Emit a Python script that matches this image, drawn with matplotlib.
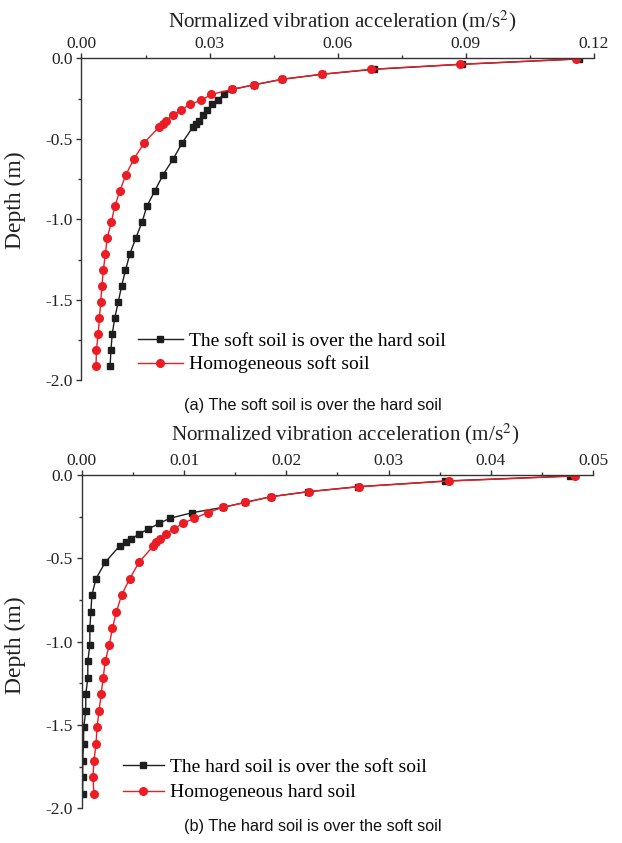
import matplotlib
matplotlib.use('Agg')
import matplotlib.pyplot as plt
from matplotlib.ticker import MultipleLocator, FormatStrFormatter

plt.rcParams['font.family'] = 'Liberation Serif'
plt.rcParams['mathtext.fontset'] = 'stix'
plt.rcParams['axes.unicode_minus'] = False

# (a) soft soil over hard soil
depth_a = [-0.004, -0.037, -0.068, -0.099, -0.13, -0.164, -0.193, -0.224, -0.259, -0.286,
           -0.321, -0.354, -0.388, -0.405, -0.426, -0.524, -0.624, -0.723, -0.822, -0.919,
           -1.017, -1.118, -1.217, -1.317, -1.414, -1.514, -1.613, -1.712, -1.812, -1.911]
soft_over_hard = [0.1164, 0.0891, 0.0686, 0.0563, 0.047, 0.0405, 0.0353, 0.0333, 0.0319, 0.0306,
                  0.0295, 0.0284, 0.0274, 0.0267, 0.0261, 0.0236, 0.0215, 0.0191, 0.0172, 0.0153,
                  0.0142, 0.0127, 0.0113, 0.0103, 0.0094, 0.0086, 0.0078, 0.0072, 0.0069, 0.0067]
homog_soft = [0.1158, 0.0886, 0.0678, 0.0563, 0.047, 0.0405, 0.0353, 0.0304, 0.0281, 0.0255,
              0.0232, 0.0214, 0.0197, 0.0191, 0.0182, 0.0147, 0.0123, 0.0104, 0.009, 0.0078,
              0.007, 0.006, 0.0056, 0.0051, 0.0048, 0.0045, 0.0042, 0.0039, 0.0035, 0.0034]

# (b) hard soil over soft soil
depth_b = [-0.006, -0.036, -0.07, -0.1, -0.13, -0.164, -0.194, -0.226, -0.26, -0.29,
           -0.324, -0.354, -0.386, -0.402, -0.426, -0.524, -0.622, -0.72, -0.82, -0.92,
           -1.018, -1.118, -1.22, -1.316, -1.416, -1.514, -1.616, -1.716, -1.814, -1.914]
hard_over_soft = [0.0477, 0.0355, 0.027, 0.0221, 0.0185, 0.016, 0.0138, 0.0108, 0.0086, 0.0076,
                  0.0065, 0.0056, 0.0048, 0.0043, 0.0037, 0.0023, 0.0014, 0.001, 0.0009, 0.0008,
                  0.0008, 0.0006, 0.0006, 0.0004, 0.0004, 0.0002, 0.00018, 0.0001, 0.0001, 0.0001]
homog_hard = [0.0482, 0.0359, 0.0271, 0.0222, 0.0185, 0.016, 0.0138, 0.0123, 0.011, 0.0099,
              0.009, 0.0082, 0.0077, 0.0073, 0.007, 0.0056, 0.0047, 0.0039, 0.0034, 0.003,
              0.0027, 0.0023, 0.0021, 0.0019, 0.0017, 0.0015, 0.0014, 0.0012, 0.0011, 0.0012]

BLACK = '#1e1e1e'
RED = '#ec1c24'
GREY = '#333333'

fig = plt.figure(figsize=(6.22, 8.43), dpi=100)
ax1 = fig.add_axes([0.131, 0.5489, 0.824, 0.3819])
ax2 = fig.add_axes([0.1313, 0.0412, 0.8226, 0.3953])


def style(ax, xmax, xmajor, depth_y):
    ax.set_xlim(0, xmax)
    ax.set_ylim(-2.0, 0.0)
    for s in ['right', 'bottom']:
        ax.spines[s].set_visible(False)
    for s in ['left', 'top']:
        ax.spines[s].set_color(GREY)
        ax.spines[s].set_linewidth(1.0)
    ax.xaxis.tick_top()
    ax.xaxis.set_label_position('top')
    ax.xaxis.set_major_locator(MultipleLocator(xmajor))
    ax.xaxis.set_minor_locator(MultipleLocator(xmajor / 2))
    ax.xaxis.set_major_formatter(FormatStrFormatter('%.2f'))
    ax.yaxis.set_major_locator(MultipleLocator(0.5))
    ax.yaxis.set_minor_locator(MultipleLocator(0.25))
    ax.yaxis.set_major_formatter(FormatStrFormatter('%.1f'))
    ax.tick_params(which='major', direction='out', length=3.8, width=1.0, color=GREY,
                   labelsize=12.5, labelcolor='#222222', pad=0.5)
    ax.tick_params(axis='y', which='major', pad=2.5)
    ax.tick_params(which='minor', direction='out', length=2.2, width=1.0, color=GREY)
    ax.set_xlabel('Normalized vibration acceleration (m/s$^2$)', fontsize=15.2, color='#222222')
    ax.set_ylabel('Depth (m)', fontsize=17, color='#222222')
    ax.yaxis.set_label_coords(-0.108, depth_y)


ax1.plot(soft_over_hard, depth_a, '-s', color=BLACK, lw=1.0, ms=4.5,
         label='The soft soil is over the hard soil')
ax1.plot(homog_soft, depth_a, '-o', color=RED, lw=1.0, ms=5.5,
         label='Homogeneous soft soil')
style(ax1, 0.12, 0.03, 0.56)
ax1.xaxis.set_label_coords(0.508, 1.098)
ax1.legend(loc='upper left', bbox_to_anchor=(138 / 622, 1 - 332 / 843),
           bbox_transform=fig.transFigure, frameon=False, fontsize=14,
           handlelength=2.3, handletextpad=0.3, borderpad=0, borderaxespad=0,
           labelspacing=0.3)

ax2.plot(hard_over_soft, depth_b, '-s', color=BLACK, lw=1.0, ms=4.5,
         label='The hard soil is over the soft soil')
ax2.plot(homog_hard, depth_b, '-o', color=RED, lw=1.0, ms=5.5,
         label='Homogeneous hard soil')
style(ax2, 0.05, 0.01, 0.49)
ax2.xaxis.set_label_coords(0.515, 1.104)
ax2.legend(loc='upper left', bbox_to_anchor=(123 / 622, 1 - 758 / 843),
           bbox_transform=fig.transFigure, frameon=False, fontsize=14,
           handlelength=2.1, handletextpad=0.3, borderpad=0, borderaxespad=0,
           labelspacing=0.42)

fig.text(313 / 622, 1 - 410 / 843, '(a) The soft soil is over the hard soil',
         family='Liberation Sans', fontsize=11.7, ha='center', va='baseline', color='#111111')
fig.text(313 / 622, 1 - 831 / 843, '(b) The hard soil is over the soft soil',
         family='Liberation Sans', fontsize=11.7, ha='center', va='baseline', color='#111111')

fig.savefig('out.png', dpi=100)
